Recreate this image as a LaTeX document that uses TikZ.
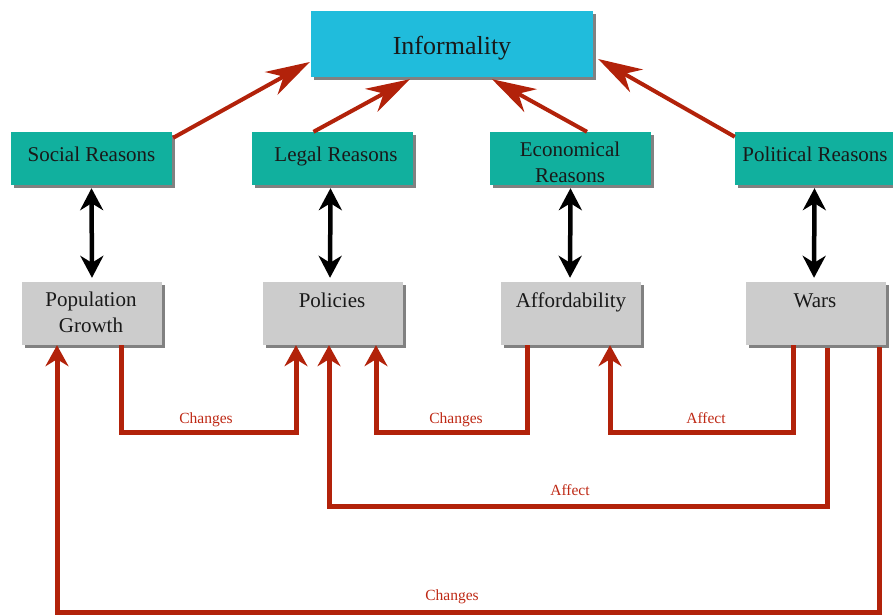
\documentclass[tikz,border=0pt]{standalone}
\usepackage{fontspec}
\setmainfont{Liberation Serif}
\usetikzlibrary{arrows.meta,shadows,calc}
\definecolor{infocyan}{RGB}{32,188,220}
\definecolor{reasonteal}{RGB}{17,176,158}
\definecolor{factgray}{RGB}{204,204,204}
\definecolor{linkred}{RGB}{178,34,10}
\definecolor{labelred}{RGB}{190,40,20}
\begin{document}
\begin{tikzpicture}[x=1pt,y=-1pt,
  boxbase/.style={inner sep=0pt, draw=none,
    drop shadow={shadow xshift=3pt, shadow yshift=-3pt, fill=black!70, opacity=0.7}},
  topbox/.style={boxbase, fill=infocyan, minimum width=282pt, minimum height=66pt},
  reasonbox/.style={boxbase, fill=reasonteal, minimum width=161pt, minimum height=53pt},
  factbox/.style={boxbase, fill=factgray, minimum width=140pt, minimum height=63pt},
  boxtext/.style={font=\fontsize{21}{25.5}\selectfont, anchor=base, inner sep=0pt, align=center, text=black!90},
  toptext/.style={font=\fontsize{26}{30}\selectfont, anchor=base, inner sep=0pt, text=black!90},
  twoway/.style={line width=4.5pt, draw=black,
    {Stealth[length=22pt,width=23pt,inset=7pt]}-{Stealth[length=22pt,width=23pt,inset=7pt]},
    shorten <=3pt, shorten >=4pt},
  redlink/.style={draw=linkred, line width=5pt, line join=miter,
    -{Stealth[length=21pt,width=23pt,inset=7pt]}},
  diaglink/.style={draw=linkred, line width=4pt,
    -{Stealth[length=44pt,width=26pt,inset=14pt]}},
  linklabel/.style={font=\fontsize{15.5}{18}\selectfont, text=labelred, anchor=base, inner sep=0pt}
]
\useasboundingbox (0,0) rectangle (893,614);

% boxes
\node[topbox] (inf) at (452,44) {};
\node[reasonbox] (soc) at (91.5,158.5) {};
\node[reasonbox] (leg) at (332.5,158.5) {};
\node[reasonbox] (eco) at (570.5,158.5) {};
\node[reasonbox] (pol) at (815.5,158.5) {};
\node[factbox] (pop) at (92,313.5) {};
\node[factbox] (plc) at (333,313.5) {};
\node[factbox] (aff) at (571,313.5) {};
\node[factbox] (war) at (816,313.5) {};

% texts
\node[toptext] (inft) at (452,54) {Informality};
\node[boxtext] (soct) at (91.5,161) {Social Reasons};
\node[boxtext] (legt) at (336,161) {Legal Reasons};
\node[boxtext] (ecot) at (570,182) {Economical\\Reasons};
\node[boxtext] (polt) at (815,161) {Political Reasons};
\node[boxtext] (popt) at (91,332) {Population\\Growth};
\node[boxtext] (plct) at (332,307) {Policies};
\node[boxtext] (afft) at (571,307) {Affordability};
\node[boxtext] (wart) at (815,307) {Wars};

% reasons to informality
\draw[diaglink] ($(soc.north east)+(1,6)$) -- ($(inf.west)+(-1,18)$);
\draw[diaglink] ($(leg.north)+(-19,0)$) -- ($(inf.south)+(-42,2)$);
\draw[diaglink] ($(eco.north)+(16.5,0)$) -- ($(inf.south)+(40,2)$);
\draw[diaglink] ($(pol.north west)+(0,5)$) -- ($(inf.east)+(5,15)$);

% reason <-> factor
\draw[twoway] (soc.south) -- (pop.north);
\draw[twoway] ($(leg.south)+(-2,0)$) -- ($(plc.north)+(-3,0)$);
\draw[twoway] (eco.south) -- ($(aff.north)+(-1,0)$);
\draw[twoway] ($(pol.south)+(-1,0)$) -- ($(war.north)+(-2,0)$);

% red connectors
\draw[redlink] ($(pop.south)+(29,0)$) -- ++(0,87) -| ($(plc.south)+(-37,0)$);
\draw[redlink] ($(aff.south)+(-44,0)$) -- ++(0,87) -| ($(plc.south)+(43,0)$);
\draw[redlink] ($(war.south)+(-23,0)$) -- ++(0,87) -| ($(aff.south)+(39,0)$);
\draw[redlink] ($(war.south)+(11,3)$) -- ++(0,158) -| ($(plc.south)+(-4,0)$);
\draw[redlink] ($(war.south)+(63,2)$) -- ++(0,265) -| ($(pop.south)+(-35,0)$);

% labels
\node[linklabel] (l1) at (206,423) {Changes};
\node[linklabel] (l2) at (456,423) {Changes};
\node[linklabel] (l3) at (706,423) {Affect};
\node[linklabel] (l4) at (570,495) {Affect};
\node[linklabel] (l5) at (452,600) {Changes};
\end{tikzpicture}
\end{document}
